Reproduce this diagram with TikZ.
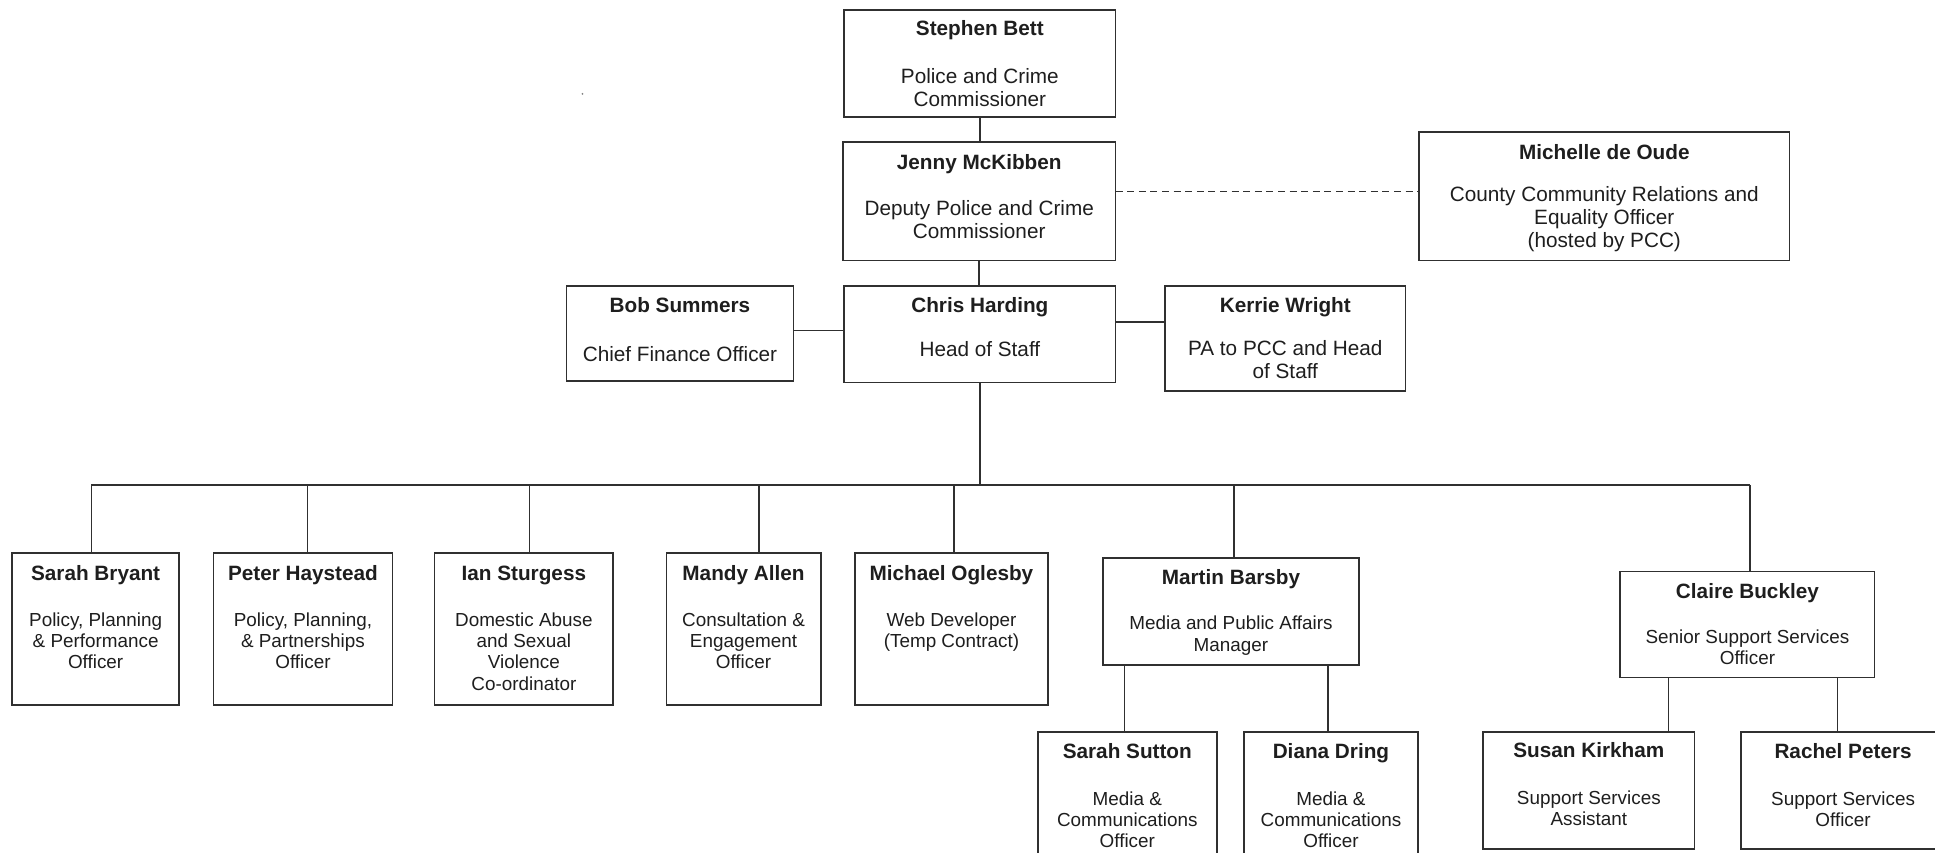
\documentclass[tikz,border=0pt]{standalone}
\usepackage{fontspec}
\setmainfont{Liberation Sans}
\usetikzlibrary{calc}
\definecolor{ink}{HTML}{1E1E1E}
\definecolor{rule}{HTML}{303030}
\tikzset{
  orgbox/.style={draw=rule, line width=0.7pt, inner sep=0pt, outer sep=0pt},
  titletxt/.style={font=\fontsize{8.4}{9.5}\selectfont\bfseries, text=ink, inner sep=0pt, anchor=base},
  bodyT/.style={font=\fontsize{8.4}{9.3}\selectfont, text=ink, align=center, inner sep=0pt, anchor=base},
  bodyB/.style={font=\fontsize{7.65}{8.65}\selectfont, text=ink, align=center, inner sep=0pt, anchor=base},
  link/.style={draw=rule, line width=0.6pt},
  dotted link/.style={draw=rule, line width=0.6pt, dash pattern=on 2.8pt off 1.9pt},
}
% box from corner (#2,#3) to corner (#4,#5)
\newcommand\orgframe[5]{%
  \pgfmathsetmacro\ofw{0.5*(#4-#2)}%
  \pgfmathsetmacro\ofh{0.5*(#5-#3)}%
  \node[orgbox, minimum width=\ofw pt, minimum height=\ofh pt] (#1) at ({(#2+#4)/2},{(#3+#5)/2}) {};}
% name line and role lines; offsets run down from the box top
% (#3: baseline of the name, #5: baseline of the last role line)
\newcommand\orgtext[6]{%
  \node[titletxt] (#1-t) at ($(#1.north)+(0,#3)$) {#2};
  \node[#4] (#1-b) at ($(#1.north)+(0,#5)$) {#6};}
\begin{document}
\begin{tikzpicture}[x=0.5pt,y=-0.5pt]
\useasboundingbox (0,0) rectangle (1568,691);
\fill[white] (0,0) rectangle (1568,691);
\clip (0,0) rectangle (1568,691);

% top of the structure
\orgframe{pcc}{684}{8}{904}{95}
\orgtext{pcc}{Stephen Bett}{21}{bodyT}{78.6}{Police and Crime\\Commissioner}
\orgframe{dpcc}{683}{115}{904}{211}
\orgtext{dpcc}{Jenny McKibben}{22}{bodyT}{78.6}{Deputy Police and Crime\\Commissioner}
\orgframe{cre}{1150}{107}{1450}{211}
\orgtext{cre}{Michelle de Oude}{22}{bodyT}{93.2}{County Community Relations and\\Equality Officer\\(hosted by PCC)}
\orgframe{cfo}{459}{232}{643}{309}
\orgtext{cfo}{Bob Summers}{21}{bodyT}{61}{Chief Finance Officer}
\orgframe{hos}{684}{232}{904}{310}
\orgtext{hos}{Chris Harding}{21}{bodyT}{57}{Head of Staff}
\orgframe{pa}{944}{232}{1139}{317}
\orgtext{pa}{Kerrie Wright}{21}{bodyT}{74.6}{PA to PCC and Head\\of Staff}

% staff row
\orgframe{sb}{10}{448}{145}{571}
\orgtext{sb}{Sarah Bryant}{22}{bodyB}{94.1}{Policy, Planning\\\& Performance\\Officer}
\orgframe{ph}{173}{448}{318}{571}
\orgtext{ph}{Peter Haystead}{22}{bodyB}{94.1}{Policy, Planning,\\\& Partnerships\\Officer}
\orgframe{is}{352}{448}{497}{571}
\orgtext{is}{Ian Sturgess}{22}{bodyB}{111.4}{Domestic Abuse\\and Sexual\\Violence\\Co-ordinator}
\orgframe{ma}{540}{448}{665}{571}
\orgtext{ma}{Mandy Allen}{22}{bodyB}{94.1}{Consultation \&\\Engagement\\Officer}
\orgframe{mo}{693}{448}{849}{571}
\orgtext{mo}{Michael Oglesby}{22}{bodyB}{76.8}{Web Developer\\(Temp Contract)}
\orgframe{mb}{894}{452}{1101}{539}
\orgtext{mb}{Martin Barsby}{22}{bodyB}{75.8}{Media and Public Affairs\\Manager}
\orgframe{cb}{1313}{463}{1519}{549}
\orgtext{cb}{Claire Buckley}{22}{bodyB}{75.8}{Senior Support Services\\Officer}

% teams
\orgframe{ss}{841}{593}{986}{700}
\orgtext{ss}{Sarah Sutton}{22}{bodyB}{94.1}{Media \&\\Communications\\Officer}
\orgframe{dd}{1008}{593}{1149}{700}
\orgtext{dd}{Diana Dring}{22}{bodyB}{94.1}{Media \&\\Communications\\Officer}
\orgframe{sk}{1202}{593}{1373}{688}
\orgtext{sk}{Susan Kirkham}{21}{bodyB}{75.8}{Support Services\\Assistant}
\orgframe{rp}{1411}{593}{1576}{688}
\orgtext{rp}{Rachel Peters}{22}{bodyB}{76.8}{Support Services\\Officer}

% reporting lines
\coordinate (dl) at (0,155);
\coordinate (bl) at (0,268);
\coordinate (kl) at (0,261);
\draw[link] (pcc.south) -- (pcc.south |- dpcc.north);
\draw[link] (dpcc.south) -- (dpcc.south |- hos.north);
\draw[dotted link] (dpcc.east |- dl) -- (cre.west |- dl);
\draw[link] (cfo.east |- bl) -- (hos.west |- bl);
\draw[link] (hos.east |- kl) -- (pa.west |- kl);

\coordinate (d1) at (74,393);
\coordinate (d2) at (249,393);
\coordinate (d3) at (429,393);
\coordinate (d4) at (615,393);
\coordinate (d5) at (773,393);
\coordinate (d6) at (1000,393);
\coordinate (d7) at (1418,393);
\draw[link] (hos.south) -- (hos.south |- d1);
\draw[link] (d1) -- (d7);
\draw[link] (d1) -- (d1 |- sb.north);
\draw[link] (d2) -- (d2 |- ph.north);
\draw[link] (d3) -- (d3 |- is.north);
\draw[link] (d4) -- (d4 |- ma.north);
\draw[link] (d5) -- (d5 |- mo.north);
\draw[link] (d6) -- (d6 |- mb.north);
\draw[link] (d7) -- (d7 |- cb.north);

\coordinate (m1) at (911,0);
\coordinate (m2) at (1076,0);
\coordinate (c1) at (1352,0);
\coordinate (c2) at (1489,0);
\draw[link] (m1 |- mb.south) -- (m1 |- ss.north);
\draw[link] (m2 |- mb.south) -- (m2 |- dd.north);
\draw[link] (c1 |- cb.south) -- (c1 |- sk.north);
\draw[link] (c2 |- cb.south) -- (c2 |- rp.north);

% stray speck
\fill[rule!60] (472,76) circle[radius=0.4pt];
\end{tikzpicture}
\end{document}
